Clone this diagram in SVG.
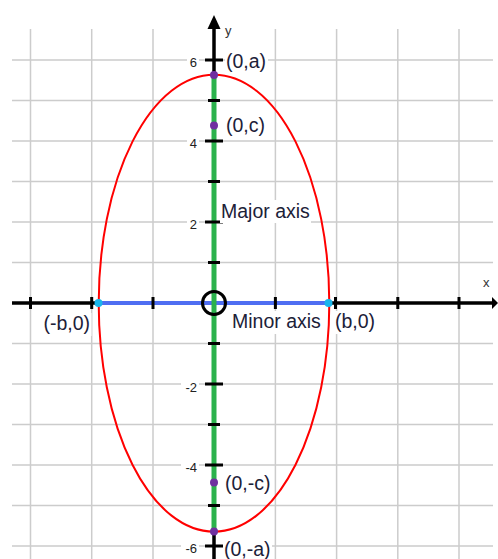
<svg xmlns="http://www.w3.org/2000/svg" width="498" height="559" viewBox="0 0 498 559">
<style>
.grid{stroke:#cccccc;stroke-width:1.5;fill:none}
.axis{stroke:#000;stroke-width:3.5;fill:none}
.tick{stroke:#000;stroke-width:3}
.bg{fill:#fff}
.lbl{font-family:"Liberation Sans",Arial,sans-serif;font-size:19.5px;fill:#1c2138}
.num{font-family:"Liberation Sans",Arial,sans-serif;font-size:13px;fill:#222;text-anchor:end}
.ax{font-family:"Liberation Sans",Arial,sans-serif;font-size:13px;fill:#333}
.pt{fill:#7030a0}
.ep{fill:#1ab6ec}
</style>
<rect width="498" height="559" fill="#fff"/>
<g id="grid" class="grid">
<path d="M30.5 29V559M91.7 29V559M153 29V559M275.4 29V559M336.6 29V559M397.8 29V559M459 29V559"/>
<path d="M12 60H493M12 100.5H493M12 141H493M12 181.5H493M12 222H493M12 262.5H493M12 343.5H493M12 384H493M12 424.5H493M12 465H493M12 505.5H493M12 546H493"/>
</g>
<g id="x-axis">
<line class="axis" x1="12" y1="303" x2="493" y2="303"/>
<polygon points="492,297 498,303 492,309" fill="#000"/>
<text class="ax" x="483" y="287">x</text>
</g>
<g id="y-axis">
<line class="axis" x1="214" y1="26" x2="214" y2="559"/>
<polygon points="207.5,29 214,15 220.5,29" fill="#000"/>
<text class="ax" x="225" y="35">y</text>
</g>
<g id="ellipse">
<ellipse cx="214" cy="303.2" rx="115.3" ry="228.5" fill="none" stroke="#ff0000" stroke-width="2"/>
</g>
<g id="minor-axis">
<line x1="98" y1="303" x2="329" y2="303" stroke="#4f6ef2" stroke-width="4"/>
</g>
<g id="major-axis">
<line x1="214" y1="75" x2="214" y2="532" stroke="#2bb24c" stroke-width="5"/>
</g>
<g id="ticks" class="tick">
<path d="M30.5 297V309M91.7 297V309M153 297V309M275.4 297V309M335.5 297V309M397.8 297V309M459 297V309"/>
<path d="M205 60H223M205 141H223M205 222H223M205 384H223M205 465H223M205 546H223"/>
<path d="M208 100.5H220M208 181.5H220M208 262.5H220M208 343.5H220M208 424.5H220M208 505.5H220"/>
</g>
<g id="numbers">
<rect class="bg" x="187" y="55" width="12" height="14"/>
<text class="num" x="197" y="67">6</text>
<rect class="bg" x="187" y="136" width="12" height="14"/>
<text class="num" x="197" y="148">4</text>
<rect class="bg" x="187" y="217" width="12" height="14"/>
<text class="num" x="197" y="229">2</text>
<rect class="bg" x="181" y="379" width="18" height="14"/>
<text class="num" x="197" y="392">-2</text>
<rect class="bg" x="181" y="460" width="18" height="14"/>
<text class="num" x="197" y="472">-4</text>
<rect class="bg" x="181" y="541" width="18" height="14"/>
<text class="num" x="197" y="553">-6</text>
</g>
<g id="origin">
<circle cx="214" cy="303" r="11.5" fill="none" stroke="#000" stroke-width="3"/>
</g>
<g id="points">
<circle class="pt" cx="214" cy="75" r="4"/>
<circle class="pt" cx="214" cy="125.5" r="4"/>
<circle class="pt" cx="214" cy="482.5" r="4"/>
<circle class="pt" cx="214" cy="531.5" r="4"/>
<circle class="ep" cx="98.5" cy="303" r="4"/>
<circle class="ep" cx="328.5" cy="303" r="4"/>
</g>
<g id="labels">
<rect class="bg" x="225" y="50" width="43" height="23"/>
<text class="lbl" x="226" y="68">(0,a)</text>
<rect class="bg" x="225" y="114" width="43" height="23"/>
<text class="lbl" x="226" y="132">(0,c)</text>
<rect class="bg" x="220" y="200" width="91" height="23"/>
<text class="lbl" x="221" y="218">Major axis</text>
<rect class="bg" x="231" y="311" width="90" height="23"/>
<text class="lbl" x="232" y="328">Minor axis</text>
<rect class="bg" x="334" y="311" width="43" height="23"/>
<text class="lbl" x="335" y="328">(b,0)</text>
<rect class="bg" x="42.5" y="313" width="49" height="23"/>
<text class="lbl" x="43.5" y="330">(-b,0)</text>
<rect class="bg" x="224" y="472" width="49" height="22"/>
<text class="lbl" x="225" y="490">(0,-c)</text>
<rect class="bg" x="223" y="538" width="49" height="21"/>
<text class="lbl" x="224" y="556">(0,-a)</text>
</g>
</svg>
